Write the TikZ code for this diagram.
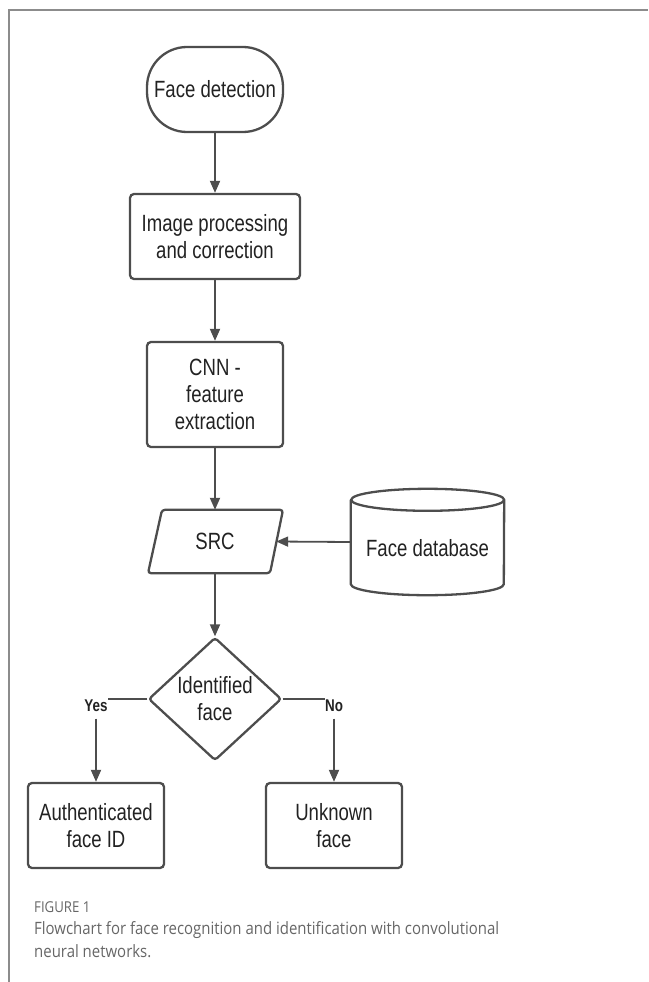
\documentclass[tikz,border=0pt]{standalone}
\usepackage{fontspec}
\setmainfont{Liberation Sans}[FakeStretch=0.79]
\newfontfamily\capfont{Open Sans}[FakeStretch=0.88]
\usetikzlibrary{arrows.meta,shapes.geometric}
\definecolor{edge}{HTML}{4D4D4D}
\definecolor{framegray}{HTML}{8C8C8C}
\definecolor{captext}{HTML}{666666}
\definecolor{ink}{HTML}{222222}

\begin{document}
\begin{tikzpicture}[x=1pt,y=-1pt,
  every node/.style={font=\fontsize{23.5}{27}\selectfont, text=ink, align=center, inner sep=0pt},
  shapebox/.style={draw=edge, line width=2.3pt, rounded corners=4pt,
                   minimum width=136pt, minimum height=85pt},
  outline/.style={draw=edge, line width=2.3pt},
  flow/.style={draw=edge, line width=1.8pt, -{Triangle[length=12pt,width=10pt]}},
  plain/.style={draw=edge, line width=1.8pt},
  branch/.style={font=\fontsize{17}{18}\bfseries\selectfont}
]
\useasboundingbox (0,0) rectangle (648,982);

% page frame (top and left rules)
\draw[framegray, line width=1.5pt] (9,982) -- (9,10) -- (648,10);

% main column
\node[shapebox, rounded corners=40pt] (start) at (215,89.5) {Face detection};
\node[shapebox, minimum width=170pt] (prep) at (215,236.5) {Image processing\\and correction};
\node[shapebox, minimum height=105pt] (cnn) at (215,394.5) {CNN -\\feature\\extraction};

% SRC parallelogram
\node[minimum width=122pt, minimum height=63pt] (src) at (215,541.5) {SRC};
\draw[outline, rounded corners=3pt]
  ([xshift=-67pt]src.south) -- ([xshift=-53pt]src.north) --
  ([xshift=68pt]src.north) -- ([xshift=55pt]src.south) -- cycle;

% database cylinder
\node[minimum width=153pt, minimum height=106pt] (db) at (427.5,542) {};
\node (dblabel) at ([yshift=-6pt]db.center) {Face database};
\draw[outline]
  ([yshift=-11pt]db.north west) -- ([yshift=11pt]db.south west)
  arc[start angle=180, end angle=360, x radius=76.5pt, y radius=11pt]
  -- ([yshift=-11pt]db.north east)
  arc[start angle=0, end angle=180, x radius=76.5pt, y radius=11pt]
  arc[start angle=180, end angle=360, x radius=76.5pt, y radius=11pt];

% decision
\node[outline, diamond, aspect=1.08, minimum width=133pt, minimum height=123pt,
      rounded corners=3pt] (dec) at (215,699) {Identified\\face};

% outcomes
\node[shapebox] (auth) at (96,825.5) {Authenticated\\face ID};
\node[shapebox] (unk) at (334,825.5) {Unknown\\face};
\node[branch] (yes) at (96,705.5) {Yes};
\node[branch] (no) at (334,705.5) {No};

% connectors
\draw[flow] (start) -- (prep);
\draw[flow] (prep) -- (cnn);
\draw[flow] (cnn) -- (src);
\draw[flow] (db.west) -- (src.east);
\draw[flow] (src) -- (dec);
\draw[plain] (dec.west) -- (dec.west -| yes.east);
\draw[plain] (dec.east) -- (dec.east -| no.west);
\draw[flow, shorten <=7pt] (yes.south) -- (auth.north);
\draw[flow, shorten <=7pt] (no.south) -- (unk.north);

% caption
\node[anchor=west, font=\capfont\fontsize{15}{15}\selectfont, text=captext] (fig) at (34,907) {FIGURE 1};
\node[anchor=north west, align=left, font=\capfont\fontsize{17}{23}\selectfont, text=captext] (cap)
  at (34,921) {Flowchart for face recognition and identification with convolutional\\neural networks.};
\end{tikzpicture}
\end{document}
